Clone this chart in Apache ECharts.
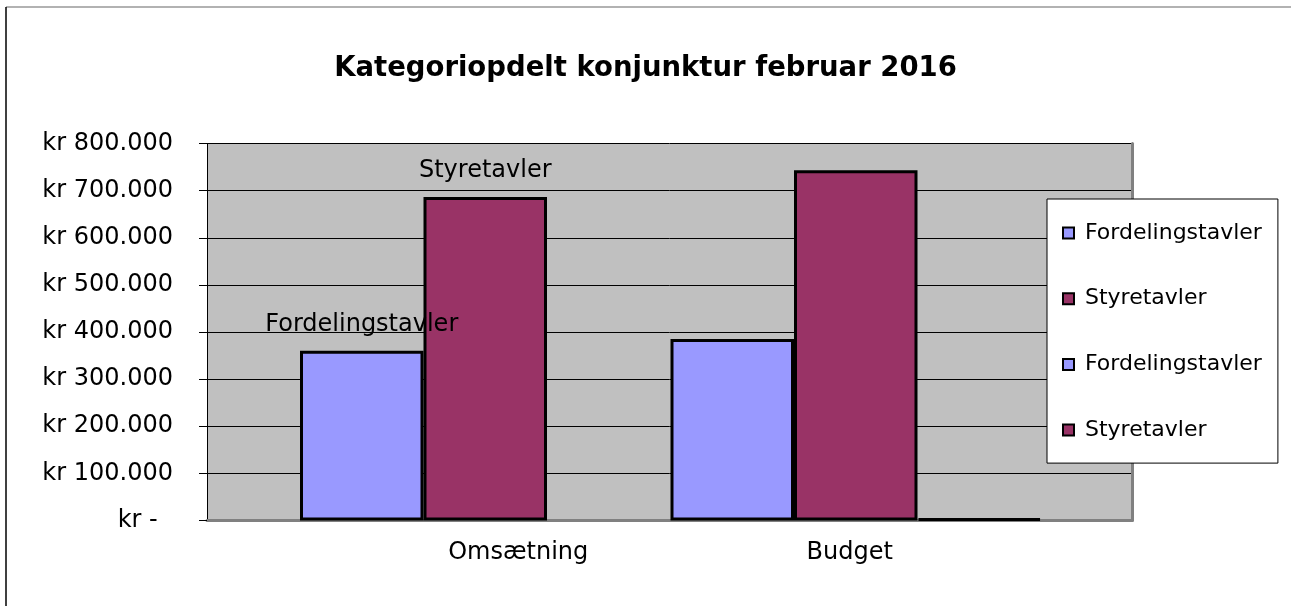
<!DOCTYPE html>
<html>
<head>
<meta charset="utf-8">
<script src="https://cdn.jsdelivr.net/npm/echarts@6/dist/echarts.min.js"></script>
<style>
  html, body { margin: 0; padding: 0; background: #fff; }
  #chart { width: 1291px; height: 606px; }
</style>
</head>
<body>
<div id="chart"></div>
<script>
// data
var categories = ['Omsætning', 'Budget'];
var fordelingOms = [360000, 385000];
var styreOms = [686500, 743000];
var fordelingBud = [null, 4000];
var styreBud = [null, null];
var yTicks = [0, 800000, 100000]; // min, max, step

var FONT = 'DejaVu Sans';
var BLUE = '#9999ff';
var MAROON = '#993366';

function krFormat(v) {
    if (v === 0) return 'kr -  ';
    return 'kr ' + String(v).replace(/\B(?=(\d{3})+(?!\d))/g, '.');
}

function barLabel(params) {
    // kun dataetiketter paa omsaetning
    return params.dataIndex === 0 ? params.seriesName.split(' (')[0] : '';
}

var barStyle = function (color) {
    return { color: color, borderColor: '#000', borderWidth: 3 };
};

var chart = echarts.init(document.getElementById('chart'));
chart.setOption({
    animation: false,
    backgroundColor: '#fff',
    textStyle: { fontFamily: FONT },
    title: {
        text: 'Kategoriopdelt konjunktur februar 2016',
        left: 'center',
        top: 55,
        padding: 0,
        textStyle: { fontFamily: FONT, fontSize: 27.5, fontWeight: 'bold', color: '#000' }
    },
    legend: {
        orient: 'vertical',
        left: 1047,
        top: 199,
        padding: [23, 16, 22, 15],
        itemGap: 43.7,
        itemWidth: 11,
        itemHeight: 11,
        icon: 'rect',
        backgroundColor: '#fff',
        borderColor: '#000',
        borderWidth: 1,
        selectedMode: false,
        formatter: function (name) { return name.split(' (')[0]; },
        textStyle: { fontFamily: FONT, fontSize: 22, color: '#000', padding: [0, 0, 0, 6] },
        data: ['Fordelingstavler (Omsætning)', 'Styretavler (Omsætning)', 'Fordelingstavler (Budget)', 'Styretavler (Budget)']
    },
    graphic: [
        { type: 'line', shape: { x1: 6, y1: 7, x2: 1291, y2: 7 }, style: { stroke: '#999', lineWidth: 1.5 } },
        { type: 'line', shape: { x1: 6, y1: 7, x2: 6, y2: 606 }, style: { stroke: '#000', lineWidth: 1.5 } }
    ],
    grid: [
        { left: 207, right: 159, top: 143.5, bottom: 85.5, show: true, backgroundColor: '#c0c0c0', borderWidth: 0 },
        { left: 300, right: 250, top: 143.5, bottom: 85.5 }
    ],
    xAxis: [
        { gridIndex: 0, type: 'category', data: categories, position: 'bottom',
          axisLine: { lineStyle: { color: '#000', width: 1 } }, axisTick: { show: false }, axisLabel: { show: false } },
        { gridIndex: 1, type: 'category', data: categories, position: 'bottom',
          axisLine: { show: false }, axisTick: { show: false },
          axisLabel: {
              margin: 20, color: '#000', fontFamily: FONT, fontSize: 24,
              formatter: function (v, i) { return i === 0 ? '{a|' + v + '}' : '{b|' + v + '}'; },
              rich: {
                  a: { fontFamily: FONT, fontSize: 24, color: '#000', padding: [0, 0, 0, 66] },
                  b: { fontFamily: FONT, fontSize: 24, color: '#000', padding: [0, 12, 0, 0] }
              }
          } },
        { gridIndex: 0, type: 'category', data: categories, position: 'top',
          axisLine: { lineStyle: { color: '#808080', width: 3 } }, axisTick: { show: false }, axisLabel: { show: false } }
    ],
    yAxis: [
        { gridIndex: 0, type: 'value', min: yTicks[0], max: yTicks[1], interval: yTicks[2],
          axisLine: { show: true, lineStyle: { color: '#000', width: 1 } },
          axisTick: { show: true, length: 8, lineStyle: { color: '#000' } },
          axisLabel: { margin: 34, color: '#000', fontFamily: FONT, fontSize: 24, formatter: krFormat },
          splitLine: { show: true, lineStyle: { color: '#000', width: 1 } } },
        { gridIndex: 1, type: 'value', min: yTicks[0], max: yTicks[1], interval: yTicks[2], show: false,
          splitLine: { show: false } },
        { gridIndex: 0, type: 'value', min: yTicks[0], max: yTicks[1], interval: yTicks[2], position: 'right',
          axisLine: { show: true, lineStyle: { color: '#808080', width: 3 } },
          axisTick: { show: false }, axisLabel: { show: false }, splitLine: { show: false } }
    ],
    series: [
        { name: 'Fordelingstavler (Omsætning)', type: 'bar', xAxisIndex: 1, yAxisIndex: 1,
          data: fordelingOms, itemStyle: barStyle(BLUE), barGap: 0, barCategoryGap: 0,
          label: { show: true, position: 'top', distance: 14, color: '#000', fontFamily: FONT, fontSize: 24, formatter: barLabel } },
        { name: 'Styretavler (Omsætning)', type: 'bar', xAxisIndex: 1, yAxisIndex: 1,
          data: styreOms, itemStyle: barStyle(MAROON), barGap: 0, barCategoryGap: 0,
          label: { show: true, position: 'top', distance: 14, color: '#000', fontFamily: FONT, fontSize: 24, formatter: barLabel } },
        { name: 'Fordelingstavler (Budget)', type: 'bar', xAxisIndex: 1, yAxisIndex: 1, stack: 'budget',
          data: fordelingBud, itemStyle: barStyle(BLUE), barGap: 0, barCategoryGap: 0 },
        { name: 'Styretavler (Budget)', type: 'bar', xAxisIndex: 1, yAxisIndex: 1, stack: 'budget',
          data: styreBud, itemStyle: barStyle(MAROON), barGap: 0, barCategoryGap: 0 }
    ]
});
</script>
</body>
</html>
